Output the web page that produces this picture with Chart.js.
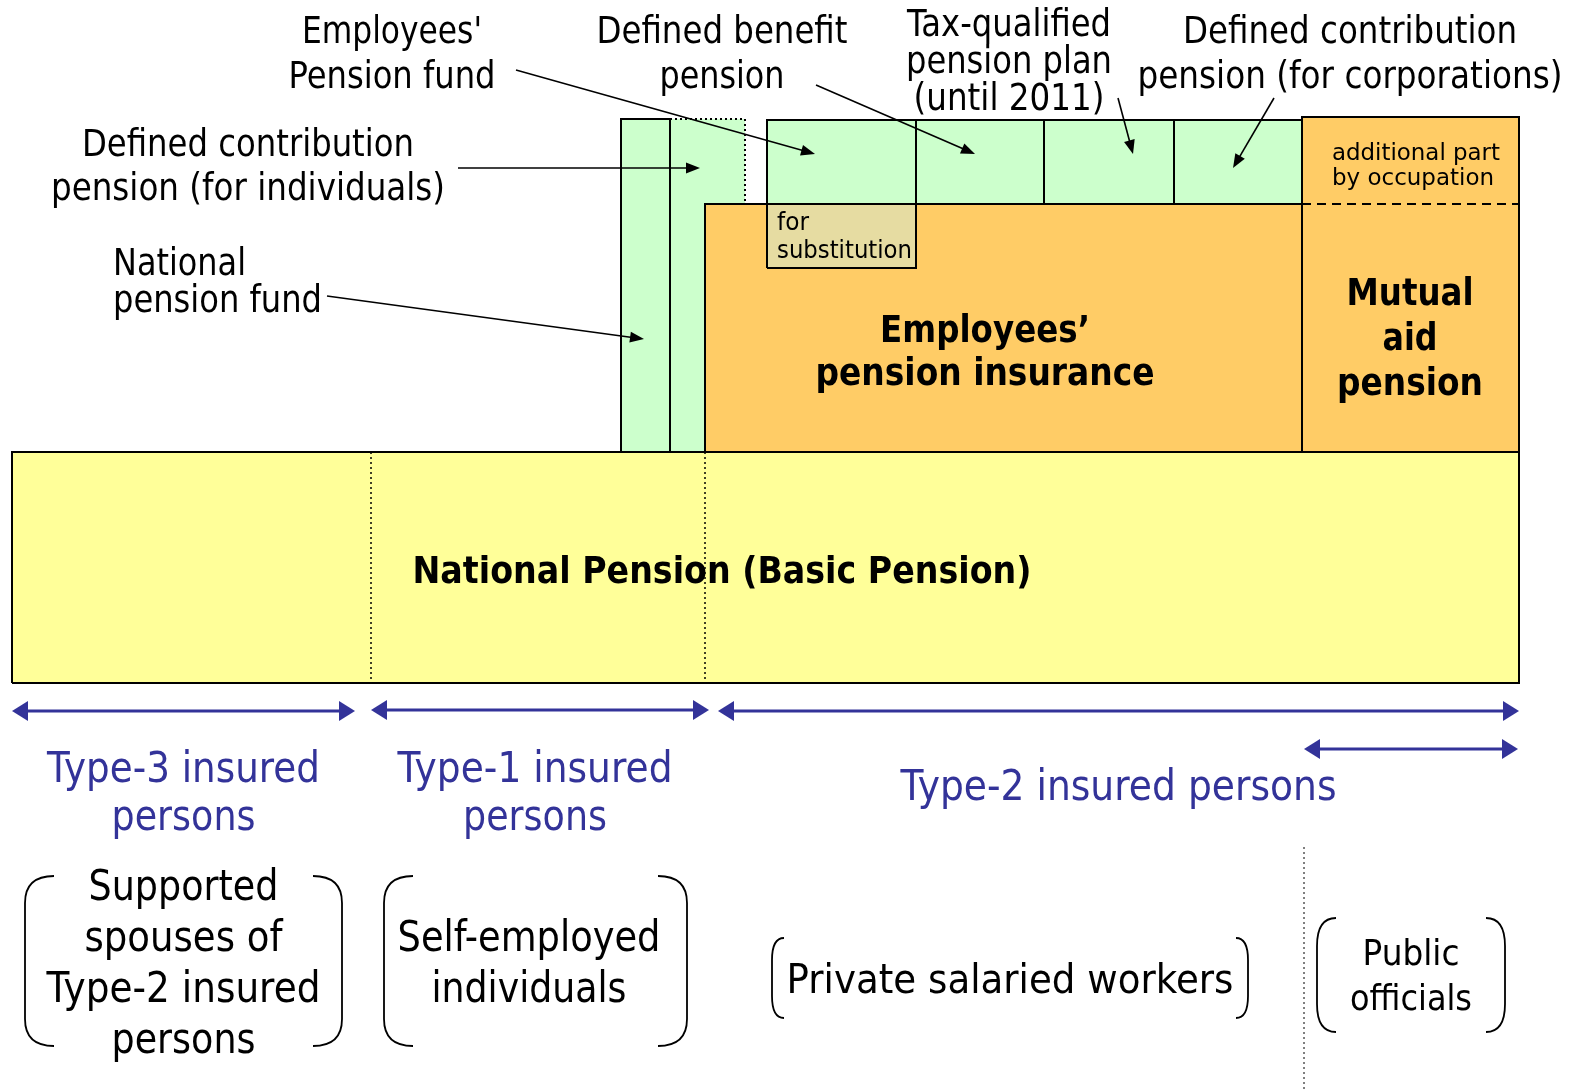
<!DOCTYPE html>
<html>
<head>
<meta charset="utf-8">
<title>Japanese pension system</title>
<script src="https://cdn.jsdelivr.net/npm/chart.js@4.4.1/dist/chart.umd.min.js"></script>
<style>
  html, body { margin: 0; padding: 0; background: #fff; overflow: hidden; }
  canvas { display: block; }
</style>
</head>
<body>
<canvas id="chart" width="1579" height="1091"></canvas>
<script>
// diagram units: x runs across the insured population, y runs down through the tiers
const spanX = [0, 1579];
const spanY = [0, 1091];

// pension schemes (boxes)
const schemes = ['National Pension (Basic Pension)', 'National pension fund', 'Defined contribution pension (for individuals)',
  "Employees' pension insurance", "Employees' Pension fund", 'Defined benefit pension', 'Tax-qualified pension plan',
  'Defined contribution pension (for corporations)', 'for substitution', 'Mutual aid pension'];
const schemeFrom = [12, 621, 670, 705, 767, 916, 1044, 1174, 767, 1302];
const schemeTo   = [1519, 670, 745, 1302, 916, 1044, 1174, 1302, 916, 1519];
const schemeTop  = [452, 119, 119, 204, 120, 120, 120, 120, 204, 117];
const schemeBase = [683, 452, 452, 452, 204, 204, 204, 204, 268, 452];

// insured groups (blue double arrows)
const groups = ['Type-3 insured persons', 'Type-1 insured persons', 'Type-2 insured persons', 'Public officials'];
const groupFrom = [12, 371, 718, 1304];
const groupTo   = [355, 709, 1519, 1518];
const groupLevel = [711, 710, 711, 749];

// styles
const GREEN = '#ccffcc', ORANGE = '#ffcc66', YELLOW = '#ffff99', KHAKI = '#e6dca2', BLUE = '#333399';
const schemeFill = [YELLOW, GREEN, GREEN, ORANGE, GREEN, GREEN, GREEN, GREEN, KHAKI, ORANGE];
const DC_INDIVIDUAL = 2;   // this column is partly outlined with a dotted line

function rect(l, r, t, b) {
  return [{x: l, y: b}, {x: l, y: t}, {x: r, y: t}, {x: r, y: b}, {x: l, y: b}];
}

function rule(points, dash, width) {
  return { data: points, borderColor: '#000', borderWidth: width, borderDash: dash, fill: false, pointRadius: 0, tension: 0 };
}

const datasets = [];
schemes.forEach((name, i) => {
  const own = i !== DC_INDIVIDUAL;
  datasets.push({
    label: name,
    data: rect(schemeFrom[i], schemeTo[i], schemeTop[i], schemeBase[i]),
    backgroundColor: schemeFill[i],
    borderColor: own ? '#000' : 'rgba(0,0,0,0)',
    borderWidth: own ? 2 : 0,
    borderJoinStyle: 'miter',
    fill: 'shape',
    tension: 0,
    pointRadius: 0
  });
  if (i === 0) {
    // group borders inside the basic pension
    datasets.push(rule([{x: groupFrom[1], y: schemeTop[0]}, {x: groupFrom[1], y: schemeBase[0]}], [2, 3], 1.5));
    datasets.push(rule([{x: schemeFrom[3], y: schemeTop[0]}, {x: schemeFrom[3], y: schemeBase[0]}], [2, 3], 1.5));
  }
  if (!own) {
    const l = schemeFrom[i], r = schemeTo[i], t = schemeTop[i], b = schemeBase[i];
    datasets.push(rule([{x: schemeFrom[3], y: b}, {x: l, y: b}, {x: l, y: t}], [], 2));
    datasets.push(rule([{x: l, y: t}, {x: r, y: t}, {x: r, y: schemeTop[3]}], [2, 3], 2));
  }
});
// occupational part of the mutual aid pension
datasets.push(rule([{x: schemeFrom[9], y: schemeTop[3]}, {x: schemeTo[9], y: schemeTop[3]}], [9, 6], 2));
// private / public split below
datasets.push(rule([{x: groupFrom[3], y: 847}, {x: groupFrom[3], y: spanY[1]}], [2, 3], 1));
datasets.forEach((d, i) => { d.order = datasets.length - i; });

// pointers from the scheme names to their boxes
const pointers = [
  [[516, 70], [815, 154]],
  [[458, 168], [700, 168]],
  [[327, 296], [644, 339]],
  [[816, 85], [975, 154]],
  [[1118, 98], [1133, 154]],
  [[1274, 98], [1233, 168]]
];

const gx = i => (groupFrom[i] + groupTo[i]) / 2;

const labels = [
  {t: ["Employees'", 'Pension fund'], x: 392, y: [43, 88], w: [180, 207], s: 37},
  {t: ['Defined benefit', 'pension'], x: 722, y: [43, 88], w: [251, 125], s: 37},
  {t: ['Tax-qualified', 'pension plan', '(until 2011)'], x: 1009, y: [36, 73, 110], w: [204, 206, 191], s: 37},
  {t: ['Defined contribution', 'pension (for corporations)'], x: 1350, y: [43, 88], w: [334, 425], s: 37},
  {t: ['Defined contribution', 'pension (for individuals)'], x: 248, y: [156, 200], w: [332, 394], s: 37},
  {t: ['National', 'pension fund'], x: 113, y: [275, 312], w: [133, 209], s: 37, a: 'left'},
  {t: ['National Pension (Basic Pension)'], x: 722, y: [583], w: [619], s: 38, b: true},
  {t: ['Employees’', 'pension insurance'], x: 985, y: [342, 385], w: [210, 339], s: 37, b: true},
  {t: ['Mutual', 'aid', 'pension'], x: 1410, y: [305, 350, 395], w: [127, 55, 146], s: 37, b: true},
  {t: ['additional part', 'by occupation'], x: 1332, y: [160, 185], w: [168, 162], s: 23, a: 'left'},
  {t: ['for', 'substitution'], x: 777, y: [230, 258], w: [32, 135], s: 24, a: 'left'},
  {t: ['Type-3 insured', 'persons'], x: gx(0), y: [782, 830], w: [273, 144], s: 43, c: BLUE},
  {t: ['Type-1 insured', 'persons'], x: 535, y: [782, 830], w: [275, 144], s: 43, c: BLUE},
  {t: ['Type-2 insured persons'], x: gx(2), y: [800], w: [436], s: 42, c: BLUE},
  {t: ['Supported', 'spouses of', 'Type-2 insured', 'persons'], x: gx(0), y: [900, 951, 1002, 1053], w: [190, 198, 274, 144], s: 42},
  {t: ['Self-employed', 'individuals'], x: 529, y: [951, 1002], w: [263, 195], s: 42},
  {t: ['Private salaried workers'], x: 1010, y: [993], w: [447], s: 41},
  {t: ['Public', 'officials'], x: gx(3), y: [965, 1010], w: [97, 122], s: 36}
];

// brackets round the group descriptions: [left, right, top, bottom, curve w, curve h]
const brackets = [
  [25, 342, 876, 1046, 29, 27],
  [384, 687, 876, 1046, 29, 27],
  [772, 1248, 938, 1018, 12, 22],
  [1317, 1505, 918, 1032, 19, 28]
];

const overlay = {
  id: 'overlay',
  afterDatasetsDraw(chart) {
    const ctx = chart.ctx;
    const sx = v => chart.scales.x.getPixelForValue(v);
    const sy = v => chart.scales.y.getPixelForValue(v);

    function head(x1, y1, x2, y2, len, half) {
      const a = Math.atan2(y2 - y1, x2 - x1);
      ctx.beginPath();
      ctx.moveTo(x2, y2);
      ctx.lineTo(x2 - len * Math.cos(a) + half * Math.sin(a), y2 - len * Math.sin(a) - half * Math.cos(a));
      ctx.lineTo(x2 - len * Math.cos(a) - half * Math.sin(a), y2 - len * Math.sin(a) + half * Math.cos(a));
      ctx.closePath();
      ctx.fill();
    }

    ctx.save();
    // group arrows
    ctx.strokeStyle = BLUE; ctx.fillStyle = BLUE; ctx.lineWidth = 3;
    groups.forEach((g, i) => {
      const x1 = sx(groupFrom[i]), x2 = sx(groupTo[i]), y = sy(groupLevel[i]);
      ctx.beginPath(); ctx.moveTo(x1 + 10, y); ctx.lineTo(x2 - 10, y); ctx.stroke();
      head(x2, y, x1, y, 16, 10);
      head(x1, y, x2, y, 16, 10);
    });

    // pointers
    ctx.strokeStyle = '#000'; ctx.fillStyle = '#000'; ctx.lineWidth = 1.6;
    pointers.forEach(([p, q]) => {
      const x1 = sx(p[0]), y1 = sy(p[1]), x2 = sx(q[0]), y2 = sy(q[1]);
      const a = Math.atan2(y2 - y1, x2 - x1);
      ctx.beginPath(); ctx.moveTo(x1, y1); ctx.lineTo(x2 - 8 * Math.cos(a), y2 - 8 * Math.sin(a)); ctx.stroke();
      head(x1, y1, x2, y2, 14, 5.5);
    });

    // brackets
    ctx.lineWidth = 1.8;
    brackets.forEach(([l, r, t, b, cw, ch]) => {
      const L = sx(l), R = sx(r), T = sy(t), B = sy(b);
      ctx.beginPath();
      ctx.moveTo(L + cw, T); ctx.quadraticCurveTo(L, T, L, T + ch);
      ctx.lineTo(L, B - ch); ctx.quadraticCurveTo(L, B, L + cw, B);
      ctx.moveTo(R - cw, T); ctx.quadraticCurveTo(R, T, R, T + ch);
      ctx.lineTo(R, B - ch); ctx.quadraticCurveTo(R, B, R - cw, B);
      ctx.stroke();
    });

    // text, squeezed to the widths of the original lettering
    ctx.textBaseline = 'alphabetic';
    labels.forEach(lb => {
      ctx.font = (lb.b ? 'bold ' : '') + lb.s + 'px "DejaVu Sans", Verdana, sans-serif';
      ctx.fillStyle = lb.c || '#000';
      ctx.textAlign = lb.a || 'center';
      lb.t.forEach((line, k) => {
        const m = ctx.measureText(line).width;
        const target = sx(lb.w[k]) - sx(0);
        ctx.save();
        ctx.translate(sx(lb.x), sy(lb.y[k]));
        ctx.scale(target / m, 1);
        ctx.fillText(line, 0, 0);
        ctx.restore();
      });
    });
    ctx.restore();
  }
};

new Chart(document.getElementById('chart'), {
  type: 'line',
  data: { datasets: datasets },
  options: {
    responsive: false,
    animation: false,
    events: [],
    layout: { padding: 0 },
    plugins: { legend: { display: false }, tooltip: { enabled: false } },
    scales: {
      x: { type: 'linear', min: spanX[0], max: spanX[1], display: false },
      y: { type: 'linear', min: spanY[0], max: spanY[1], reverse: true, display: false }
    }
  },
  plugins: [overlay]
});
</script>
</body>
</html>
